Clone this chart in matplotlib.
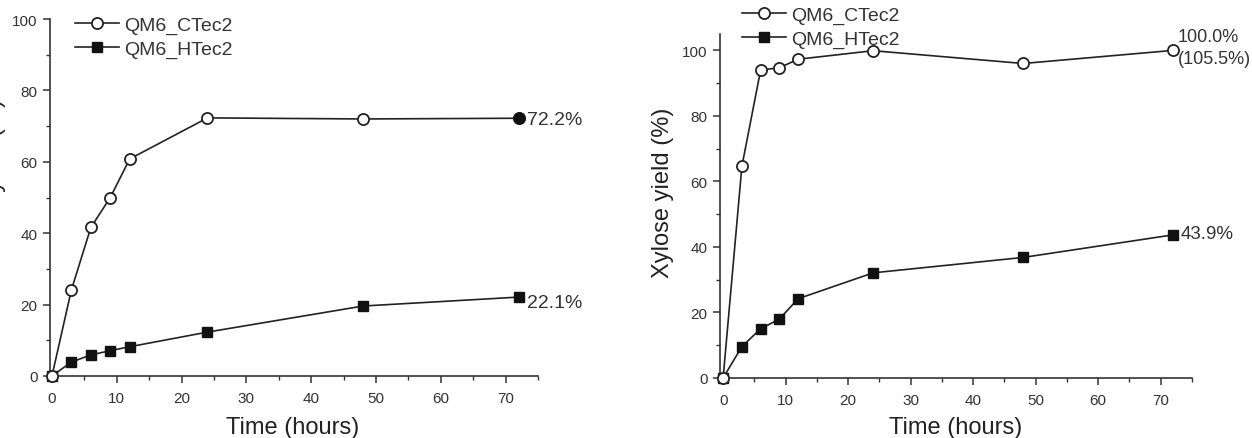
import matplotlib
matplotlib.use("Agg")
import matplotlib.pyplot as plt
from matplotlib.ticker import MultipleLocator

plt.rcParams['font.family'] = ['Liberation Sans', 'DejaVu Sans']

time_h = [0, 3, 6, 9, 12, 24, 48, 72]
glc_ctec2 = [0, 24.1, 41.6, 50.0, 60.8, 72.3, 72.0, 72.2]
glc_htec2 = [0, 3.9, 5.9, 7.1, 8.2, 12.3, 19.6, 22.1]
xyl_ctec2 = [0, 64.6, 94.0, 94.7, 97.3, 99.9, 96.0, 100.0]
xyl_htec2 = [0, 9.6, 15.0, 18.0, 24.2, 32.1, 36.8, 43.7]
series_names = ["QM6_CTec2", "QM6_HTec2"]
glc_labels = ["72.2%", "22.1%"]
xyl_labels = ["100.0%\n(105.5%)", "43.9%"]

W, H = 1252, 439
fig = plt.figure(figsize=(W / 100, H / 100), dpi=100)

def px_axes(l, r, t, b):
    return fig.add_axes([l / W, 1 - b / H, (r - l) / W, (b - t) / H])

ax1 = px_axes(50, 538, 20, 377)
ax2 = px_axes(720, 1192, 35, 379)

ink = '#222222'
tick_c = '#333333'

def style(ax, xlim, ylim):
    ax.set_xlim(*xlim)
    ax.set_ylim(*ylim)
    for s in ['top', 'right']:
        ax.spines[s].set_visible(False)
    for s in ['left', 'bottom']:
        ax.spines[s].set_color(tick_c)
        ax.spines[s].set_linewidth(1.2)
    ax.xaxis.set_major_locator(MultipleLocator(10))
    ax.xaxis.set_minor_locator(MultipleLocator(5))
    ax.yaxis.set_major_locator(MultipleLocator(20))
    ax.yaxis.set_minor_locator(MultipleLocator(10))
    ax.tick_params(which='major', length=5, width=1.1, color=tick_c,
                   labelsize=11, labelcolor=tick_c, pad=4)
    ax.tick_params(axis='x', which='major', pad=6)
    ax.tick_params(which='minor', length=3, width=1.0, color=tick_c)
    ax.set_xlabel("Time (hours)", fontsize=17, color=ink)

def draw(ax, ct, ht, fill_last):
    l1, = ax.plot(time_h, ct, '-', color=ink, lw=1.2, marker='o', ms=8,
                  mfc='white', mec=ink, mew=1.3, clip_on=False, zorder=4,
                  label=series_names[0])
    l2, = ax.plot(time_h, ht, '-', color=ink, lw=1.2, marker='s', ms=7.2,
                  mfc='#111111', mec='#111111', clip_on=False, zorder=3,
                  label=series_names[1])
    if fill_last:
        ax.plot(time_h[-1:], ct[-1:], 'o', ms=8, mfc='#111111', mec='#111111',
                clip_on=False, zorder=5)
    return l1, l2

style(ax1, (-0.3, 75), (0, 100))
style(ax2, (-0.5, 75), (0, 105))

h1 = draw(ax1, glc_ctec2, glc_htec2, True)
h2 = draw(ax2, xyl_ctec2, xyl_htec2, False)

# x label positions
ax1.xaxis.set_label_coords((293 - 50) / 488, (377 - 428) / 357)
ax1.xaxis.label.set_va('center')
ax2.xaxis.set_label_coords((956 - 720) / 472, (379 - 428) / 344)
ax2.xaxis.label.set_va('center')

ann = dict(textcoords='offset points', ha='left', fontsize=14, color=tick_c,
           annotation_clip=False)
ax1.annotate(glc_labels[0], (time_h[-1], glc_ctec2[-1]), xytext=(6, -1), va='center', **ann)
ax1.annotate(glc_labels[1], (time_h[-1], glc_htec2[-1]), xytext=(6, -4), va='center', **ann)
ax2.annotate(xyl_labels[0], (time_h[-1], xyl_ctec2[-1]), xytext=(3, 16), va='top',
             linespacing=1.35, **{**ann, 'fontsize': 13})
ax2.annotate(xyl_labels[1], (time_h[-1], xyl_htec2[-1]), xytext=(5, 1), va='center',
             **{**ann, 'fontsize': 13.5})

ax2.set_ylabel("Xylose yield (%)", fontsize=17, color=ink)
ax2.yaxis.set_label_coords((663 - 720) / 472, (379 - 193) / 344)
ax2.yaxis.label.set_va('center')
fig.text(-5 / W, 1 - 192 / H, "Glucose yield (%)", rotation=90, fontsize=17,
         color=ink, ha='center', va='center')

leg_kw = dict(frameon=False, fontsize=14, handlelength=2.25, handletextpad=0.3,
              labelspacing=0.32, borderaxespad=0, labelcolor=tick_c)
fig.legend(handles=h1, bbox_to_anchor=(67 / W, 1 - 9 / H), loc='upper left', **leg_kw)
fig.legend(handles=h2, bbox_to_anchor=(734 / W, 1 + 1 / H), loc='upper left', **leg_kw)

fig.savefig("out.png", dpi=100)
